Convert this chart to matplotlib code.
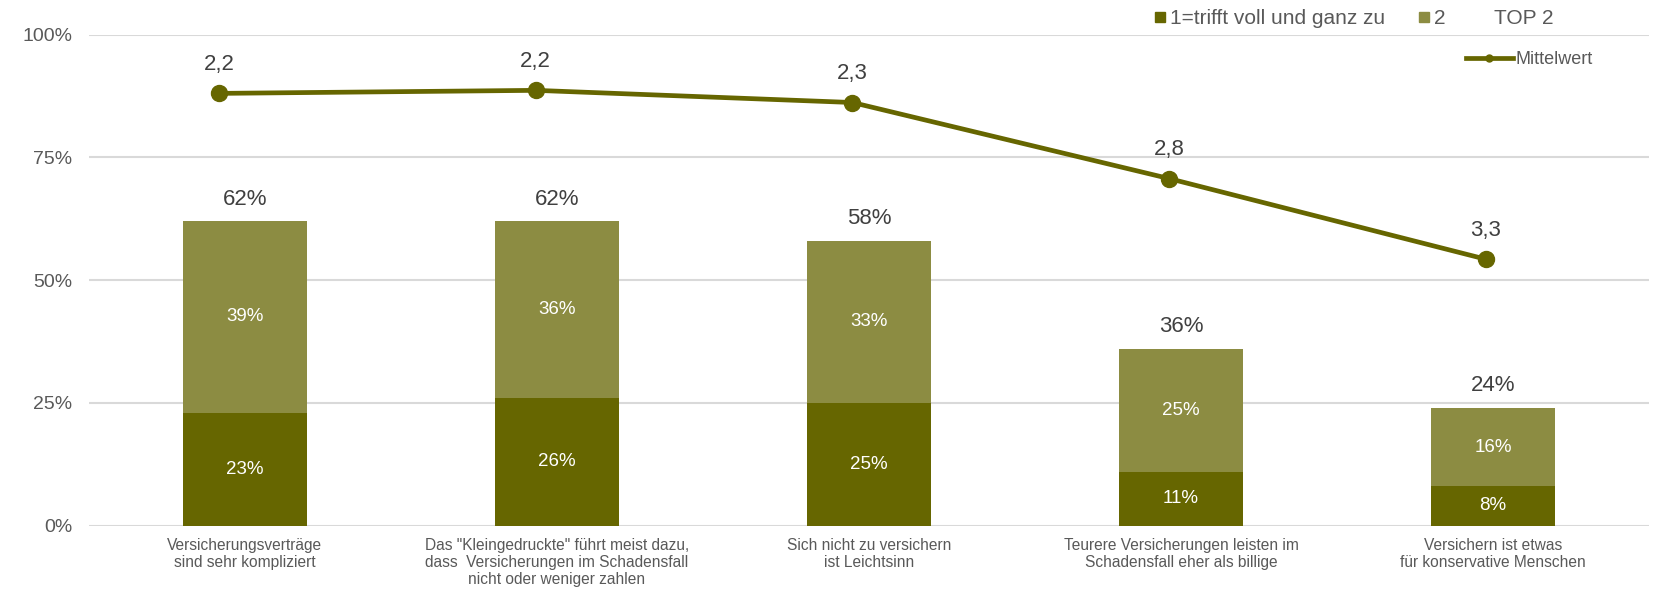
import matplotlib
matplotlib.use("Agg")
import matplotlib.pyplot as plt
from matplotlib.lines import Line2D
from matplotlib.ticker import FuncFormatter

plt.rcParams["font.family"] = ["Liberation Sans", "DejaVu Sans"]

categories = [
    "Versicherungsverträge\nsind sehr kompliziert",
    "Das \"Kleingedruckte\" führt meist dazu,\ndass  Versicherungen im Schadensfall\nnicht oder weniger zahlen",
    "Sich nicht zu versichern\nist Leichtsinn",
    "Teurere Versicherungen leisten im\nSchadensfall eher als billige",
    "Versichern ist etwas\nfür konservative Menschen",
]
trifft_voll = [23, 26, 25, 11, 8]      # 1 = trifft voll und ganz zu
trifft_eher = [39, 36, 33, 25, 16]     # 2
top2 = [62, 62, 58, 36, 24]            # TOP 2
mittelwert = [2.20, 2.18, 2.26, 2.76, 3.29]
y_ticks = [0, 25, 50, 75, 100]

DARK = "#666600"
LIGHT = "#8c8c42"
GRID = "#d9d9d9"
TXT = "#595959"
LBL = "#404040"

fig = plt.figure(figsize=(16.54, 5.92), dpi=100)
rect = [0.0538, 0.1123, 0.9432, 0.8289]
ax = fig.add_axes(rect)

x = list(range(len(categories)))
b1 = ax.bar(x, trifft_voll, width=0.40, color=DARK, zorder=3)
b2 = ax.bar(x, trifft_eher, width=0.40, bottom=trifft_voll, color=LIGHT, zorder=3)
ax.bar_label(b1, labels=[f"{v}%" for v in trifft_voll], label_type="center",
             color="white", fontsize=13.5)
ax.bar_label(b2, labels=[f"{v}%" for v in trifft_eher], label_type="center",
             color="white", fontsize=13.5)
for xi, t in zip(x, top2):
    ax.annotate(f"{t}%", (xi, t), xytext=(0, 16), textcoords="offset points",
                ha="center", va="center", fontsize=16, color=LBL)

ax.set_xlim(-0.5, 4.5)
ax.set_ylim(0, 100)
ax.set_yticks(y_ticks)
ax.yaxis.set_major_formatter(FuncFormatter(lambda v, p: f"{v:.0f}%"))
ax.set_xticks(x)
ax.set_xticklabels(categories, fontsize=11.2, color=TXT, linespacing=1.15)
ax.tick_params(axis="y", length=0, pad=12, labelsize=14, labelcolor=TXT)
ax.tick_params(axis="x", length=0, pad=9)
ax.grid(axis="y", color=GRID, linewidth=1.5, zorder=0)
for s in ax.spines.values():
    s.set_visible(False)

# Mean values on their own (inverted) scale
ax2 = fig.add_axes(rect, zorder=5)
ax2.patch.set_visible(False)
ax2.set_xlim(-0.4105, 4.515)
ax2.set_ylim(5.04, 1.815)
ax2.axis("off")
ax2.plot(x, mittelwert, color=DARK, linewidth=3.4, marker="o", markersize=11.5,
         solid_capstyle="round")
for xi, m in zip(x, mittelwert):
    ax2.annotate(f"{m:.1f}".replace(".", ","), (xi, m), xytext=(0, 21),
                 textcoords="offset points", ha="center", va="center",
                 fontsize=16, color=LBL)

handles1 = [
    Line2D([], [], linestyle="none", marker="s", markersize=7.5, color=DARK),
    Line2D([], [], linestyle="none", marker="s", markersize=7.5, color=LIGHT),
    Line2D([], [], linestyle="none", marker="s", markersize=7.5, color="none"),
]
leg1 = fig.legend(handles1, ["1=trifft voll und ganz zu", "2", "TOP 2"],
                  loc="center left", bbox_to_anchor=(1154 / 1654, 1 - 19 / 592),
                  ncol=3, frameon=False, fontsize=15, handlelength=0.55,
                  handletextpad=0.2, columnspacing=1.6, borderpad=0,
                  borderaxespad=0, labelcolor=TXT)
handles2 = [Line2D([], [], color=DARK, linewidth=3.4, marker="o", markersize=5)]
leg2 = fig.legend(handles2, ["Mittelwert"], loc="center left",
                  bbox_to_anchor=(1466 / 1654, 1 - 60 / 592), frameon=False,
                  fontsize=13, handlelength=2.6, handletextpad=0.15,
                  borderpad=0, borderaxespad=0, labelcolor=TXT)

fig.savefig("out.png", dpi=100)
